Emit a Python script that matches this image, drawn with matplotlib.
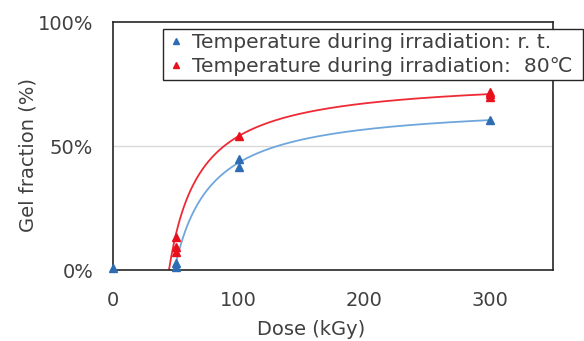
import numpy as np
import matplotlib
matplotlib.use("Agg")
import matplotlib.pyplot as plt
from matplotlib.lines import Line2D

# ---- data ----
dose_rt = [0, 50, 50, 100, 100, 300]
gel_rt = [1.0, 1.3, 2.8, 41.6, 45.0, 60.5]
dose_80 = [50, 50, 50, 100, 300, 300, 300]
gel_80 = [7.4, 9.4, 13.4, 54.0, 70.0, 71.0, 72.0]
# dose where each trendline crosses 0 %
trend_zero_rt = 49.0
trend_zero_80 = 44.7
xticks = [0, 100, 200, 300]
yticks = [0, 50, 100]
ytick_labels = ["0%", "50%", "100%"]
labels = ["Temperature during irradiation: r. t.",
          "Temperature during irradiation:  80\u2103"]

C_RT_M, C_RT_L = "#2E6DB4", "#6FA6DC"
C_80_M, C_80_L = "#E8101C", "#EE2A35"
TXT = "#404040"
FS = 14


def fit_saturating(x, y, c, xmin=100):
    """Least-squares fit of y = A*(x-c)/(x-c+K) on points with x>=xmin."""
    x = np.asarray(x, float); y = np.asarray(y, float)
    m = x >= xmin
    x, y = x[m], y[m]
    best = None
    for K in np.linspace(5, 150, 1451):
        g = (x - c) / (x - c + K)
        A = (g @ y) / (g @ g)
        r = np.sum((A * g - y) ** 2)
        if best is None or r < best[0]:
            best = (r, A, K)
    _, A, K = best
    return lambda t: A * (t - c) / (t - c + K)


plt.rcParams["font.family"] = ["DejaVu Sans", "Noto Sans CJK JP"]
fig = plt.figure(figsize=(5.84, 3.41), dpi=100)
ax = fig.add_axes([0.193, 0.208, 0.754, 0.727])

for dx, dy, c0, cm, cl in [(dose_rt, gel_rt, trend_zero_rt, C_RT_M, C_RT_L),
                           (dose_80, gel_80, trend_zero_80, C_80_M, C_80_L)]:
    f = fit_saturating(dx, dy, c0)
    t = np.linspace(c0, max(dx), 300)
    ax.plot(t, f(t), color=cl, lw=1.3, zorder=2)
    ax.plot(dx, dy, linestyle="none", marker="^", ms=5.5, color=cm, zorder=3, clip_on=False)

ax.set_xlim(0, 350)
ax.set_ylim(0, 100)
ax.set_xticks(xticks)
ax.set_yticks(yticks)
ax.set_yticklabels(ytick_labels)
ax.axhline(50, color="#D9D9D9", lw=1, zorder=1)
for s in ax.spines.values():
    s.set_color("#262626")
    s.set_linewidth(1.2)
ax.tick_params(axis="y", length=0, labelsize=FS, colors=TXT, pad=14)
ax.tick_params(axis="x", length=0, labelsize=FS, colors=TXT, pad=15)
ax.set_xlabel("Dose (kGy)", fontsize=FS, color=TXT)
ax.xaxis.set_label_coords(0.45, -0.2)
ax.set_ylabel("Gel fraction (%)", fontsize=FS, color=TXT)
ax.yaxis.set_label_coords(-0.17, 0.464)

handles = [Line2D([], [], linestyle="none", marker="^", ms=5, color=C_RT_M),
           Line2D([], [], linestyle="none", marker="^", ms=5, color=C_80_M)]
leg = ax.legend(handles, labels, loc="upper left", bbox_to_anchor=(0.114, 0.972, 0.954, 0.0),
                mode="expand", fontsize=14.6, frameon=True, fancybox=False, edgecolor="#262626",
                framealpha=1, handlelength=0.9, handletextpad=0.35, borderpad=0.2,
                labelspacing=0.25, borderaxespad=0)
leg.get_frame().set_linewidth(1.0)
for tx in leg.get_texts():
    tx.set_color(TXT)

fig.savefig("out.png", dpi=100)
